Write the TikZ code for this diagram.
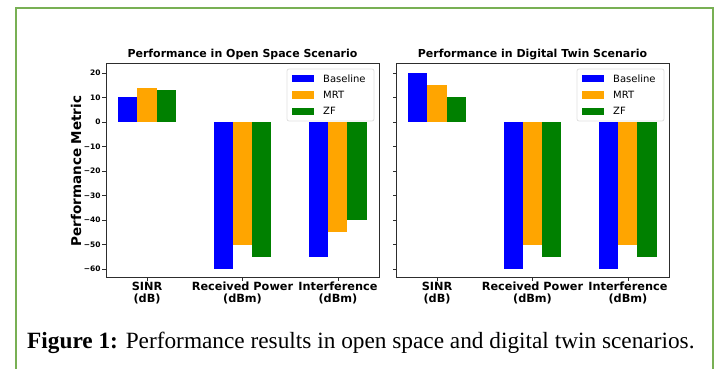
\documentclass[tikz,border=0pt]{standalone}
\usepackage{fontspec}
\setmainfont{Liberation Serif}
\newfontfamily\plotfont{DejaVu Sans}
\definecolor{framegreen}{RGB}{120,176,84}
\definecolor{mplblue}{RGB}{0,0,255}
\definecolor{mplorange}{RGB}{255,165,0}
\definecolor{mplgreen}{RGB}{0,128,0}
\definecolor{axisgray}{RGB}{45,45,45}

\begin{document}
\begin{tikzpicture}[x=1pt,y=1pt,
  ticklab/.style={font=\plotfont\bfseries\fontsize{7.5}{8}\selectfont,anchor=east,inner sep=0pt},
  catlab/.style={font=\plotfont\bfseries\fontsize{11.3}{12.5}\selectfont,align=center,anchor=north,inner sep=0pt},
  plottitle/.style={font=\plotfont\bfseries\fontsize{11}{12}\selectfont,inner sep=0pt},
  legbox/.style={draw=black!12,fill=white,rounded corners=2pt,line width=0.8pt},
  legtext/.style={font=\plotfont\fontsize{10}{10}\selectfont,anchor=west,inner sep=0pt},
  axisline/.style={draw=axisgray,line width=0.9pt}]
\useasboundingbox (0,0) rectangle (718,-369);
\draw [framegreen,line width=1.4pt] (16,-372) |- (713,-8) -- (713,-372);

\begin{scope}[shift={(147.04,-122)},x=95.45pt,y=2.45pt]
\foreach \c/\b/\m/\z in {0/10/14/13, 1/-60/-50/-55, 2/-55/-45/-40} {
  \fill [mplblue] (\c-0.3,0) rectangle (\c-0.1,\b);
  \fill [mplorange] (\c-0.1,0) rectangle (\c+0.1,\m);
  \fill [mplgreen] (\c+0.1,0) rectangle (\c+0.3,\z);
}
\draw [axisline] (-0.43,24.08) rectangle (2.43,-63.27);
\foreach \v/\l [count=\i] in {20/20,10/10,0/0,-10/−10,-20/−20,-30/−30,-40/−40,-50/−50,-60/−60}
  \draw [axisline,line width=0.7pt] (-0.43,\v) -- ++(-3.5pt,0) node [ticklab,xshift=-1.5pt] (lyt\i) {\l};
\foreach \c/\l [count=\i] in {0/{SINR\\(dB)},1/{Received Power\\(dBm)},2/{Interference\\(dBm)}}
  \draw [axisline,line width=0.7pt] (\c,-63.27) -- ++(0,-3.5pt) node [catlab,yshift=-1pt] (lxt\i) {\l};
\node [plottitle] (ltitle) at (0.9999,27.4) {Performance in Open Space Scenario};
\end{scope}

\begin{scope}[shift={(437.04,-122)},x=95.45pt,y=2.45pt]
\foreach \c/\b/\m/\z in {0/20/15/10, 1/-60/-50/-55, 2/-60/-50/-55} {
  \fill [mplblue] (\c-0.3,0) rectangle (\c-0.1,\b);
  \fill [mplorange] (\c-0.1,0) rectangle (\c+0.1,\m);
  \fill [mplgreen] (\c+0.1,0) rectangle (\c+0.3,\z);
}
\draw [axisline] (-0.43,24.08) rectangle (2.43,-63.27);
\foreach \v in {20,10,...,-60}
  \draw [axisline,line width=0.7pt] (-0.43,\v) -- ++(-3.5pt,0);
\foreach \c/\l [count=\i] in {0/{SINR\\(dB)},1/{Received Power\\(dBm)},2/{Interference\\(dBm)}}
  \draw [axisline,line width=0.7pt] (\c,-63.27) -- ++(0,-3.5pt) node [catlab,yshift=-1pt] (rxt\i) {\l};
\node [plottitle] (rtitle) at (0.9999,27.4) {Performance in Digital Twin Scenario};
\end{scope}

\foreach \lx/\p in {287/l,577/r} {
  \draw [legbox] (\lx,-69) rectangle ++(87,-52);
  \foreach \col/\txt [count=\i] in {mplblue/Baseline,mplorange/MRT,mplgreen/ZF} {
    \fill [\col] (\lx+4.5,-75-16.3*\i+16.3) rectangle ++(22,-7.5);
    \node [legtext] (\p leg\i) at (\lx+36,-78.7-16.3*\i+16.3) {\txt};
  }
}

\node [font=\plotfont\bfseries\fontsize{13.5}{14}\selectfont,rotate=90,inner sep=0pt] (ylab) at (76,-171) {Performance Metric};

\node [anchor=base west,inner sep=0pt,font=\fontsize{23.3}{25}\selectfont] (cap) at (27,-348) {\textbf{Figure 1:} Performance results in open space and digital twin scenarios.};
\end{tikzpicture}
\end{document}
